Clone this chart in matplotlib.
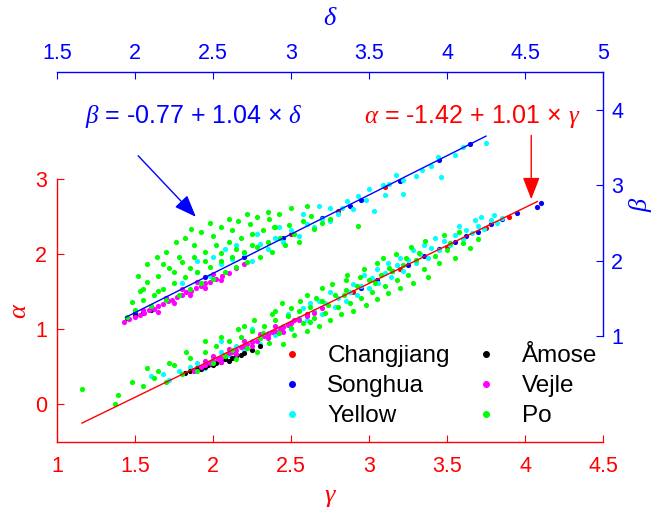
import matplotlib
matplotlib.use("Agg")
import matplotlib.pyplot as plt
from matplotlib.lines import Line2D

plt.rcParams['font.family'] = ['Liberation Sans', 'DejaVu Sans']
plt.rcParams['mathtext.fontset'] = 'custom'
plt.rcParams['mathtext.it'] = 'Liberation Serif:italic'
plt.rcParams['mathtext.rm'] = 'Liberation Sans'
plt.rcParams['mathtext.default'] = 'it'

# ---------------- data ----------------
rivers = ['Changjiang', 'Songhua', 'Yellow', 'Åmose', 'Vejle', 'Po']
colors = ['#FF0000', '#0000FF', '#00FFFF', '#000000', '#FF00FF', '#00FF00']

# lower panel: gamma (x) vs alpha (y)
changjiang_ga = [(2.60, 1.20), (2.90, 1.50), (3.20, 1.80), (3.50, 2.10), (3.75, 2.35), (3.90, 2.50)]
songhua_ga = [(2.95, 1.55), (3.05, 1.65), (3.15, 1.77), (3.25, 1.86), (3.35, 1.97), (3.45, 2.07),
              (3.55, 2.16), (3.62, 2.24), (3.70, 2.30), (3.78, 2.40), (3.85, 2.47), (3.95, 2.55),
              (4.10, 2.68), (4.08, 2.63)]
yellow_ga = [(1.68, 0.40), (1.72, 0.33), (1.78, 0.45), (1.85, 0.50), (1.90, 0.55), (1.95, 0.48),
             (2.00, 0.62), (2.05, 0.70), (2.10, 0.66), (2.15, 0.78), (2.20, 0.72), (2.25, 0.85),
             (2.30, 0.80), (2.35, 0.95), (2.40, 0.92), (2.45, 1.05), (2.50, 1.00), (2.55, 1.15),
             (2.60, 1.12), (2.65, 1.25), (2.70, 1.20), (2.72, 1.35), (2.78, 1.30), (2.80, 1.42),
             (2.85, 1.38), (2.88, 1.50), (2.92, 1.45), (2.95, 1.58), (3.00, 1.55), (3.02, 1.68),
             (3.06, 1.62), (3.10, 1.75), (3.14, 1.70), (3.18, 1.85), (3.22, 1.78), (3.25, 1.92),
             (3.30, 1.88), (3.33, 2.00), (3.38, 1.95), (3.40, 2.08), (3.45, 2.05), (3.48, 2.18),
             (3.52, 2.12), (3.55, 2.25), (3.60, 2.20), (3.62, 2.32), (3.66, 2.28), (3.70, 2.38),
             (3.74, 2.34), (3.78, 2.45), (3.82, 2.42), (3.85, 2.48), (2.58, 1.28), (2.68, 1.38),
             (2.90, 1.60), (3.20, 1.95), (3.35, 2.12), (3.05, 1.80), (1.60, 0.38), (2.05, 0.85),
             (2.25, 1.00), (2.48, 1.20), (2.62, 1.35), (2.75, 1.50), (2.97, 1.72), (3.12, 1.88),
             (3.28, 2.05), (3.42, 2.22), (3.58, 2.38), (3.68, 2.45), (3.80, 2.52), (3.72, 2.50)]
amose_ga = [(1.82, 0.42), (1.85, 0.44), (1.88, 0.46), (1.90, 0.48), (1.92, 0.47), (1.95, 0.50),
            (1.97, 0.52), (2.00, 0.53), (2.02, 0.55), (2.05, 0.57), (2.08, 0.60), (2.10, 0.58),
            (2.12, 0.62), (2.15, 0.64), (2.18, 0.66), (2.20, 0.68), (2.25, 0.72), (2.30, 0.78)]
vejle_ga = [(1.88, 0.45), (1.92, 0.50), (1.95, 0.52), (1.98, 0.55), (2.00, 0.58), (2.03, 0.60),
            (2.05, 0.62), (2.08, 0.66), (2.10, 0.68), (2.12, 0.70), (2.15, 0.72), (2.18, 0.76),
            (2.20, 0.78), (2.22, 0.80), (2.25, 0.83), (2.28, 0.85), (2.30, 0.88), (2.33, 0.91),
            (2.35, 0.93), (2.38, 0.96), (2.40, 0.98), (2.43, 1.01), (2.45, 1.03), (2.48, 1.06),
            (2.50, 1.08), (2.55, 1.13), (2.60, 1.18), (2.65, 1.22), (2.70, 1.28), (2.05, 0.56),
            (2.15, 0.67), (2.25, 0.78), (2.35, 0.88), (2.10, 0.74), (2.20, 0.84), (2.30, 0.94),
            (2.40, 1.04), (2.00, 0.64), (1.95, 0.58), (2.45, 0.97), (2.52, 1.12)]
po_ga = [(1.16, 0.20), (1.37, 0.00), (1.39, 0.12), (1.55, 0.25), (1.62, 0.35), (1.70, 0.30),
         (1.75, 0.52), (1.80, 0.40), (1.85, 0.62), (1.90, 0.45), (1.95, 0.70), (2.00, 0.55),
         (2.02, 0.78), (2.08, 0.65), (2.10, 0.85), (2.15, 0.60), (2.18, 0.90), (2.22, 0.75),
         (2.25, 0.98), (2.28, 0.70), (2.30, 0.88), (2.33, 1.05), (2.36, 0.82), (2.40, 1.12),
         (2.42, 0.95), (2.45, 0.80), (2.48, 1.18), (2.50, 1.02), (2.52, 0.92), (2.55, 1.25),
         (2.58, 1.08), (2.60, 0.98), (2.62, 1.30), (2.65, 1.15), (2.68, 1.05), (2.70, 1.38),
         (2.72, 1.22), (2.75, 1.12), (2.78, 1.45), (2.80, 1.30), (2.82, 1.20), (2.85, 1.52),
         (2.88, 1.35), (2.90, 1.25), (2.92, 1.58), (2.95, 1.42), (2.98, 1.32), (3.00, 1.65),
         (3.02, 1.50), (3.05, 1.40), (3.08, 1.72), (3.10, 1.58), (3.12, 1.48), (3.15, 1.78),
         (3.18, 1.65), (3.20, 1.55), (3.22, 1.85), (3.25, 1.72), (3.28, 1.62), (3.30, 1.92),
         (3.35, 1.80), (3.38, 1.70), (3.42, 1.98), (3.45, 1.88), (3.50, 2.05), (3.55, 1.95),
         (3.60, 2.15), (3.65, 2.08), (3.70, 2.20), (2.60, 1.45), (2.85, 1.65), (3.05, 1.88),
         (2.40, 1.25), (2.20, 1.05), (1.95, 0.85), (2.05, 0.90), (2.12, 0.72), (2.16, 1.00),
         (2.26, 1.12), (2.32, 0.95), (2.38, 1.20), (2.44, 1.35), (2.50, 1.28), (2.56, 1.38),
         (2.62, 1.10), (2.66, 1.42), (2.70, 1.55), (2.74, 1.32), (2.76, 1.60), (2.84, 1.45),
         (2.86, 1.72), (2.94, 1.70), (2.97, 1.80), (3.04, 1.62), (3.09, 1.95), (3.13, 1.82),
         (3.17, 2.00), (3.24, 1.95), (3.27, 2.10), (3.32, 2.02), (3.36, 2.18), (3.48, 2.25),
         (3.52, 2.15), (3.58, 2.30), (1.65, 0.45), (1.72, 0.55), (1.83, 0.70), (1.48, 0.30),
         (1.58, 0.48)]

# upper panel: delta (x) vs beta (y)
changjiang_db = [(3.00, 2.35), (3.30, 2.66), (3.60, 2.98)]
songhua_db = [(2.00, 1.30), (2.20, 1.50), (2.45, 1.78), (2.70, 2.05), (2.95, 2.30), (3.20, 2.57),
              (3.38, 2.73), (3.45, 2.80), (3.70, 3.06), (3.95, 3.33), (4.15, 3.55)]
yellow_db = [(2.30, 1.70), (2.40, 1.85), (2.48, 1.80), (2.55, 1.95), (2.62, 2.02), (2.70, 2.10),
             (2.75, 2.00), (2.80, 2.22), (2.85, 2.15), (2.90, 2.30), (2.95, 2.25), (3.00, 2.40),
             (3.05, 2.32), (3.10, 2.48), (3.15, 2.45), (3.20, 2.55), (3.25, 2.52), (3.30, 2.62),
             (3.33, 2.70), (3.36, 2.79), (3.40, 2.68), (3.43, 2.86), (3.48, 2.80), (3.53, 2.66),
             (3.59, 3.00), (3.60, 2.87), (3.63, 3.02), (3.67, 3.14), (3.72, 3.07), (3.72, 2.88),
             (3.80, 3.12), (3.84, 3.20), (3.90, 3.25), (3.94, 3.37), (3.96, 3.11), (4.05, 3.40),
             (4.10, 3.50), (4.25, 3.56), (3.50, 2.95), (3.25, 2.70), (2.50, 2.05), (2.65, 2.20),
             (2.78, 2.35), (2.92, 2.45), (3.08, 2.62), (3.18, 2.72), (2.58, 2.15), (2.40, 2.00)]
amose_db = [(1.95, 1.24), (2.00, 1.27), (2.05, 1.31), (2.10, 1.35)]
vejle_db = [(1.93, 1.18), (1.96, 1.22), (2.00, 1.25), (2.03, 1.28), (2.06, 1.30), (2.09, 1.34),
            (2.12, 1.36), (2.15, 1.40), (2.18, 1.42), (2.21, 1.46), (2.24, 1.48), (2.27, 1.52),
            (2.30, 1.55), (2.33, 1.58), (2.36, 1.60), (2.39, 1.64), (2.42, 1.66), (2.45, 1.70),
            (2.48, 1.72), (2.52, 1.76), (2.56, 1.80), (2.60, 1.84), (2.65, 1.90), (2.70, 1.95),
            (2.10, 1.40), (2.20, 1.50), (2.30, 1.62), (2.40, 1.72), (2.50, 1.82), (2.15, 1.32),
            (2.25, 1.44), (2.35, 1.54), (2.45, 1.64), (2.05, 1.35), (2.55, 1.74)]
po_db = [(1.95, 1.25), (1.98, 1.45), (2.00, 1.35), (2.03, 1.60), (2.05, 1.48), (2.08, 1.72),
         (2.10, 1.40), (2.12, 1.55), (2.15, 1.80), (2.18, 1.62), (2.20, 1.48), (2.22, 1.90),
         (2.25, 1.70), (2.28, 1.55), (2.30, 1.98), (2.32, 1.78), (2.35, 1.62), (2.38, 2.05),
         (2.40, 1.85), (2.42, 1.70), (2.45, 2.12), (2.48, 1.92), (2.50, 1.75), (2.52, 2.20),
         (2.55, 2.00), (2.58, 1.85), (2.60, 2.25), (2.62, 2.05), (2.65, 1.92), (2.68, 2.30),
         (2.70, 2.12), (2.72, 1.98), (2.75, 2.35), (2.78, 2.18), (2.80, 2.05), (2.82, 2.40),
         (2.85, 2.25), (2.88, 2.12), (2.90, 2.45), (2.93, 2.30), (2.96, 2.20), (2.99, 2.47),
         (3.02, 2.35), (3.05, 2.25), (3.08, 2.52), (3.13, 2.59), (3.15, 2.42), (3.20, 2.50),
         (3.25, 2.55), (3.43, 2.46), (2.89, 2.45), (2.15, 1.60), (2.35, 1.90), (2.55, 2.10),
         (2.75, 2.20), (2.05, 1.62), (2.25, 1.85), (2.45, 2.00), (2.65, 2.15), (2.02, 1.80),
         (2.08, 1.95), (2.14, 2.05), (2.20, 2.12), (2.26, 2.25), (2.32, 2.30), (2.36, 2.42),
         (2.42, 2.38), (2.48, 2.50), (2.55, 2.45), (2.60, 2.55), (2.66, 2.52), (2.72, 2.62),
         (2.78, 2.58), (2.85, 2.65), (2.92, 2.62), (3.00, 2.70), (3.10, 2.72), (2.18, 1.95),
         (2.28, 2.05), (2.38, 2.20), (2.50, 2.32), (2.62, 2.40), (2.74, 2.48), (2.86, 2.55)]

# regression fits
fit_alpha = (-1.42, 1.01)   # alpha = a + b*gamma
fit_beta = (-0.77, 1.04)    # beta = a + b*delta
gamma_range = [1.16, 4.08]
delta_range = [1.94, 4.25]

gamma_ticks = [1, 1.5, 2, 2.5, 3, 3.5, 4, 4.5]
alpha_ticks = [0, 1, 2, 3]
delta_ticks = [1.5, 2, 2.5, 3, 3.5, 4, 4.5, 5]
beta_ticks = [1, 2, 3, 4]

ga_sets = [changjiang_ga, songhua_ga, yellow_ga, amose_ga, vejle_ga, po_ga]
db_sets = [changjiang_db, songhua_db, yellow_db, amose_db, vejle_db, po_db]

# ---------------- figure ----------------
W, H = 654, 513
fig = plt.figure(figsize=(W / 100, H / 100), dpi=100)
L, R = 57, 603
axr = fig.add_axes([L / W, (H - 442) / H, (R - L) / W, (442 - 179) / H])
axb = fig.add_axes([L / W, (H - 336) / H, (R - L) / W, (336 - 72) / H])
axb.patch.set_alpha(0)
axr.patch.set_alpha(0)

RED = '#FF0000'
BLUE = '#0000FF'
ms = 14
tfs = 15.5

for pts, c in zip(ga_sets, colors):
    axr.scatter([p[0] for p in pts], [p[1] for p in pts], s=ms, c=c, linewidths=0, zorder=2)
for pts, c in zip(db_sets, colors):
    axb.scatter([p[0] for p in pts], [p[1] for p in pts], s=ms, c=c, linewidths=0, zorder=2)

axr.plot(gamma_range, [fit_alpha[0] + fit_alpha[1] * g for g in gamma_range], color=RED, lw=1, zorder=3)
axb.plot(delta_range, [fit_beta[0] + fit_beta[1] * d for d in delta_range], color=BLUE, lw=1, zorder=3)

# red axes (bottom/left)
axr.set_xlim(1, 4.5)
axr.set_ylim(-0.5, 3)
axr.set_xticks(gamma_ticks)
axr.set_xticklabels(['1', '1.5', '2', '2.5', '3', '3.5', '4', '4.5'])
axr.set_yticks(alpha_ticks)
for s in ['top', 'right']:
    axr.spines[s].set_visible(False)
for s in ['bottom', 'left']:
    axr.spines[s].set_color(RED)
    axr.spines[s].set_linewidth(1)
axr.tick_params(axis='x', direction='in', colors=RED, labelsize=tfs, length=5, pad=10)
axr.tick_params(axis='y', direction='in', colors=RED, labelsize=tfs, length=5, pad=7)
axr.set_xlabel(r'$\gamma$', color=RED, fontsize=19, labelpad=6)
axr.set_ylabel(r'$\alpha$', color=RED, fontsize=19, labelpad=3)

# blue axes (top/right)
axb.set_xlim(1.5, 5)
axb.set_ylim(1, 4.5)
axb.set_xticks(delta_ticks)
axb.set_xticklabels(['1.5', '2', '2.5', '3', '3.5', '4', '4.5', '5'])
axb.set_yticks(beta_ticks)
for s in ['bottom', 'left']:
    axb.spines[s].set_visible(False)
for s in ['top', 'right']:
    axb.spines[s].set_color(BLUE)
    axb.spines[s].set_linewidth(1)
axb.xaxis.tick_top()
axb.xaxis.set_label_position('top')
axb.yaxis.tick_right()
axb.yaxis.set_label_position('right')
axb.tick_params(axis='x', direction='in', colors=BLUE, labelsize=tfs, length=5, pad=6)
axb.tick_params(axis='y', direction='in', colors=BLUE, labelsize=tfs, length=5, pad=6)
axb.set_xlabel(r'$\delta$', color=BLUE, fontsize=19, labelpad=13)
axb.set_ylabel(r'$\beta$', color=BLUE, fontsize=19, labelpad=3)

# annotations
arrow_style = '-|>,head_length=0.9,head_width=0.35'
axr.text(4.5 - 0.145, 3.83, r'$\alpha$ = -1.42 + 1.01 $\times$ $\gamma$', color=RED, fontsize=18,
         ha='right', va='center', clip_on=False)
axb.annotate('', xy=(4.04, fit_alpha[0] + fit_alpha[1] * 4.04 + 0.07), xycoords=axr.transData,
             xytext=(4.04, 3.58), textcoords=axr.transData,
             arrowprops=dict(arrowstyle=arrow_style, color=RED, lw=1,
                             mutation_scale=15, shrinkA=0, shrinkB=0),
             annotation_clip=False)
axb.text(1.68, 3.91, r'$\beta$ = -0.77 + 1.04 $\times$ $\delta$', color=BLUE, fontsize=18,
         ha='left', va='center')
axb.annotate('', xy=(2.39, 2.58), xytext=(2.02, 3.39),
             arrowprops=dict(arrowstyle=arrow_style, color=BLUE, lw=1,
                             mutation_scale=15, shrinkA=0, shrinkB=0),
             annotation_clip=False)

# legend
handles = [Line2D([], [], ls='', marker='o', ms=4, mfc=c, mec=c) for c in colors]
leg = axr.legend(handles, rivers, ncol=2, frameon=False, fontsize=17.5,
                 loc='upper left', bbox_to_anchor=(280 / W, (H - 345) / H),
                 bbox_transform=fig.transFigure, handlelength=1.0, handletextpad=0.95,
                 columnspacing=1.0, labelspacing=0.33, borderpad=0, borderaxespad=0)

fig.savefig('out.png', dpi=100)
